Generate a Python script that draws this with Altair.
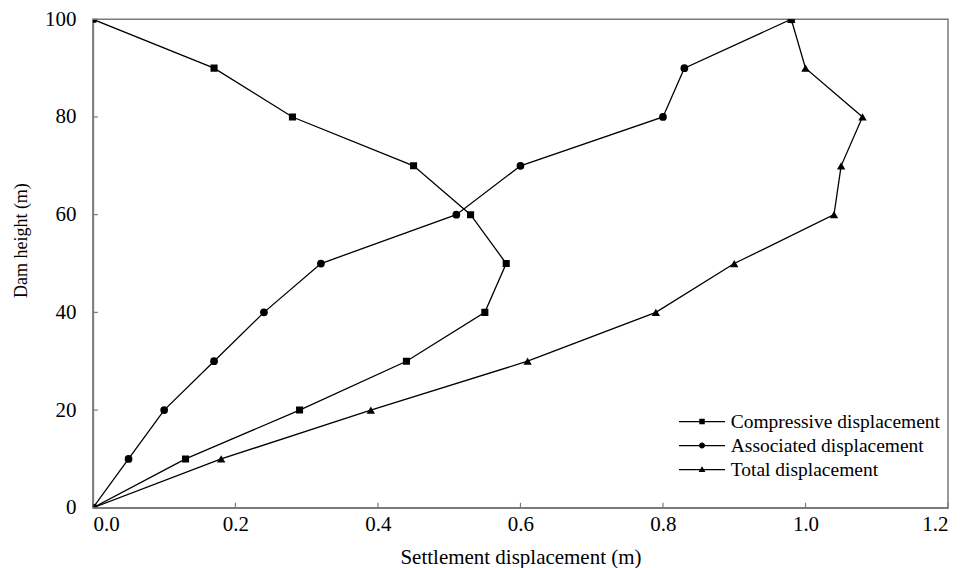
import altair as alt
import pandas as pd

heights = [0, 10, 20, 30, 40, 50, 60, 70, 80, 90, 100]
compressive = [0, 0.13, 0.29, 0.44, 0.55, 0.58, 0.53, 0.45, 0.28, 0.17, 0]
associated = [0, 0.05, 0.10, 0.17, 0.24, 0.32, 0.51, 0.60, 0.80, 0.83, 0.98]
total = [0, 0.18, 0.39, 0.61, 0.79, 0.90, 1.04, 1.05, 1.08, 1.00, 0.98]
series = ["Compressive displacement", "Associated displacement", "Total displacement"]
x_ticks = [0, 0.2, 0.4, 0.6, 0.8, 1.0, 1.2]
y_ticks = [0, 20, 40, 60, 80, 100]

rows = []
for name, vals in zip(series, [compressive, associated, total]):
    for h, v in zip(heights, vals):
        rows.append({"series": name, "height": h, "disp": v})
df = pd.DataFrame(rows)

FONT = "Liberation Serif"
AX = "#7a7a7a"
W, H = 856, 489

xs = alt.Scale(domain=[0, 1.2], nice=False, zero=False)
ys = alt.Scale(domain=[0, 100], nice=False, zero=False)

x_main = alt.X("disp:Q", scale=xs, title="Settlement displacement (m)",
               axis=alt.Axis(values=x_ticks, format=".1f", labelPadding=6,
                             titlePadding=12, titleFontSize=21, labelFontSize=21))
y_main = alt.Y("height:Q", scale=ys, title="Dam height (m)",
               axis=alt.Axis(values=y_ticks, format="d", labelPadding=17,
                             titlePadding=14, titleY=221, titleFontSize=18,
                             labelFontSize=21))

lines = alt.Chart(df).mark_line(color="black", strokeWidth=1.3, clip=True).encode(
    x=x_main, y=y_main, detail="series:N", order=alt.Order("height:Q"))

point_shapes = ["square", "circle", "triangle-up"]
point_sizes = [50, 60, 70]
point_layers = []
for name, shp, sz in zip(series, point_shapes, point_sizes):
    point_layers.append(
        alt.Chart(df).transform_filter(alt.datum.series == name)
        .mark_point(filled=True, color="black", opacity=1, size=sz, shape=shp, clip=True)
        .encode(x=alt.X("disp:Q", scale=xs), y=alt.Y("height:Q", scale=ys))
    )

leg_paths = [
    "M-4.6,-0.12H4.6V0.12H-4.6Z M-0.55,-0.55H0.55V0.55H-0.55Z",
    "M-4.6,-0.12H4.6V0.12H-4.6Z M0.6,0A0.6,0.6,0,1,1,-0.6,0A0.6,0.6,0,1,1,0.6,0Z",
    "M-4.6,-0.12H4.6V0.12H-4.6Z M0,-0.68L0.68,0.5H-0.68Z",
]
legend_layer = alt.Chart(df).mark_point(
    filled=True, color="black", opacity=0, clip=True
).encode(
    x=alt.X("disp:Q", scale=xs),
    y=alt.Y("height:Q", scale=ys),
    shape=alt.Shape("series:N", title=None,
                    scale=alt.Scale(domain=series, range=leg_paths),
                    legend=alt.Legend(orient="none", legendX=600, legendY=393,
                                      symbolSize=100, symbolOpacity=1,
                                      symbolFillColor="black",
                                      labelOffset=19,
                                      labelFont=FONT, labelFontSize=19.5, labelColor="black",
                                      rowPadding=3, padding=0, labelLimit=400)))

# inward tick marks drawn from the tick arrays
xt_df = pd.DataFrame({"disp": x_ticks})
yt_df = pd.DataFrame({"height": y_ticks})
x_tick_rules = alt.Chart(xt_df).mark_rule(color=AX, strokeWidth=1.2).encode(
    x=alt.X("disp:Q", scale=xs), y=alt.value(H), y2=alt.value(H - 5))
y_tick_rules = alt.Chart(yt_df).mark_rule(color=AX, strokeWidth=1.2).encode(
    y=alt.Y("height:Q", scale=ys), x=alt.value(0), x2=alt.value(5))

chart = alt.layer(lines, *point_layers, legend_layer, x_tick_rules, y_tick_rules).properties(
    width=W, height=H,
    background="white",
    autosize=alt.AutoSizeParams(type="none"),
    padding={"left": 85, "top": 11, "right": 20, "bottom": 60},
).configure_view(
    stroke=AX, strokeWidth=1.5
).configure_axis(
    labelFont=FONT, labelFontSize=21, labelColor="black",
    titleFont=FONT, titleFontWeight="normal", titleColor="black",
    ticks=False, tickSize=0, grid=False,
    domainColor=AX, domainWidth=1.5,
)

chart.save("out.html", embed_options={"renderer": "svg", "actions": False})
